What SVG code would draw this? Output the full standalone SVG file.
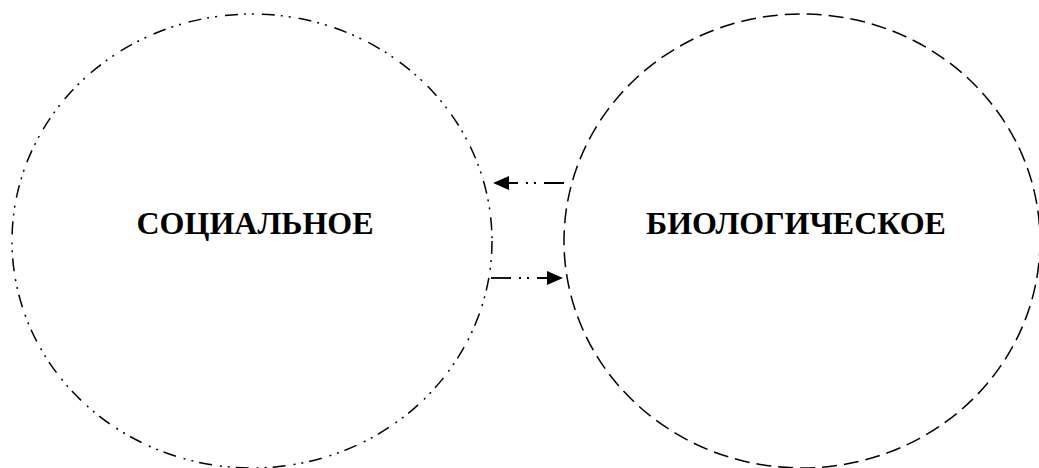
<svg xmlns="http://www.w3.org/2000/svg" width="1039" height="468" viewBox="0 0 1039 468">
<style>
.bg{fill:#ffffff}
.soc{fill:none;stroke:#000;stroke-width:1.5;stroke-dasharray:13 6 2 6 2 8}
.bio{fill:none;stroke:#000;stroke-width:1.5;stroke-dasharray:15 7}
.conn{fill:none;stroke:#000;stroke-width:1.8;stroke-dasharray:20 8 2 6 2 8}
.lbl{font-family:"Liberation Serif","Times New Roman",serif;font-weight:bold;font-size:32px;fill:#000;text-anchor:middle}
</style>
<defs>
<marker id="ah" viewBox="0 0 10 10" refX="10" refY="5" markerWidth="10" markerHeight="10" markerUnits="userSpaceOnUse" orient="auto">
<path d="M0,0 L10,5 L0,10 Z" fill="#000"/>
</marker>
<marker id="ahb" viewBox="0 0 16 14" refX="16" refY="7" markerWidth="16" markerHeight="14" markerUnits="userSpaceOnUse" orient="auto">
<path d="M0,0 L16,7 L0,14 Z" fill="#000"/>
</marker>
</defs>
<rect class="bg" x="0" y="0" width="1039" height="468"/>
<g id="social">
<ellipse class="soc" cx="252" cy="241" rx="240" ry="227"/>
<text class="lbl" x="255" y="234">СОЦИАЛЬНОЕ</text>
</g>
<g id="biological">
<ellipse class="bio" cx="802" cy="241" rx="238" ry="227"/>
<text class="lbl" x="796" y="234">БИОЛОГИЧЕСКОЕ</text>
</g>
<g id="connectors">
<line class="conn" x1="564" y1="183" x2="493" y2="183" marker-end="url(#ahb)"/>
<line class="conn" x1="491" y1="278" x2="563" y2="278" marker-end="url(#ahb)"/>
</g>
</svg>
